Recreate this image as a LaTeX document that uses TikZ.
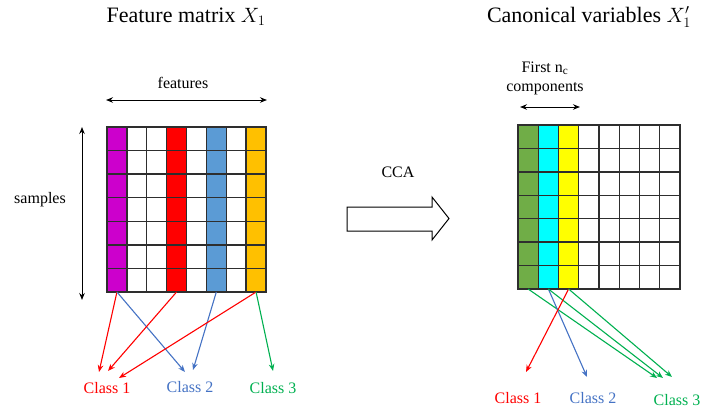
\documentclass[tikz,border=0pt]{standalone}
\usepackage{fontspec}
\setmainfont{Liberation Serif}
\usetikzlibrary{positioning,arrows.meta}

\definecolor{gridgray}{HTML}{2E2E2E}
\definecolor{cred}{HTML}{FF0000}
\definecolor{cblue}{HTML}{4472C4}
\definecolor{cgreen}{HTML}{00B050}
\definecolor{fmag}{HTML}{CC00CC}
\definecolor{fblue}{HTML}{5B9BD5}
\definecolor{forange}{HTML}{FFC000}
\definecolor{fgreen}{HTML}{70AD47}
\definecolor{fcyan}{HTML}{00FFFF}
\definecolor{fyellow}{HTML}{FFFF00}

\begin{document}
\begin{tikzpicture}[x=1pt,y=-1pt,>={Stealth[length=7pt,width=5.5pt]},
  cell/.style={draw=gridgray,line width=1.4pt},
  lbl/.style={font=\fontsize{16}{19}\selectfont,inner sep=0pt},
  ttl/.style={font=\fontsize{22}{26}\selectfont,inner sep=0pt},
  link/.style={->,line width=1.1pt}]
  \useasboundingbox (0,0) rectangle (703,412);

  % titles
  \node[ttl] (ttl1) at (186,17) {Feature matrix $X_1$};
  \node[ttl] (ttl2) at (589,17) {Canonical variables $X_1'$};

  % feature matrix
  \foreach \i/\fc in {1/fmag,2/white,3/white,4/cred,5/white,6/fblue,7/white,8/forange}
    \foreach \j in {1,...,7}
      \draw[cell,fill=\fc] ({107+19.875*(\i-1)},{127+23.57*(\j-1)}) rectangle ++(19.875,23.57);
  \foreach \i in {1,...,8}
    \coordinate (lf\i) at ({107+19.875*(\i-0.5)},292);

  \node[lbl] (feat) at (183,83) {features};
  \coordinate (fl) at (106,100);
  \coordinate (fr) at (267,100);
  \draw[<->,line width=1pt] (fl) -- (fr);
  \node[lbl] (samp) at (40,200) {samples};
  \coordinate (st) at (82,127);
  \coordinate (sb) at (82,300);
  \draw[<->,line width=1pt] (st) -- (sb);

  % canonical variables
  \foreach \i/\fc in {1/fgreen,2/fcyan,3/fyellow,4/white,5/white,6/white,7/white,8/white}
    \foreach \j in {1,...,7}
      \draw[cell,fill=\fc] ({518+20.25*(\i-1)},{125+23.43*(\j-1)}) rectangle ++(20.25,23.43);
  \foreach \i in {1,...,3}
    \coordinate (rf\i) at ({518+20.25*(\i-0.5)},289);

  \node[lbl,align=center] (first) at (545,78) {First n\textsubscript{c}\\components};
  \coordinate (nl) at (520,107);
  \coordinate (nr) at (580,107);
  \draw[<->,line width=1pt] (nl) -- (nr);

  % CCA
  \draw[line width=1pt] (347,207) -- (432,207) -- (432,197) -- (449,218.5)
    -- (432,240) -- (432,231) -- (347,231) -- cycle;
  \coordinate (cca) at (398,197);
  \node[lbl,above=19pt of cca] (ccat) {CCA};

  % classes
  \node[lbl,text=cred] (lc1) at (107,388) {Class 1};
  \node[lbl,text=cblue] (lc2) at (190,387) {Class 2};
  \node[lbl,text=cgreen] (lc3) at (273,388) {Class 3};
  \node[lbl,text=cred] (rc1) at (518,398) {Class 1};
  \node[lbl,text=cblue] (rc2) at (593,398) {Class 2};
  \node[lbl,text=cgreen] (rc3) at (677,400) {Class 3};

  \coordinate (la) at (99,372);
  \coordinate (lb) at (185,372);
  \coordinate (lc) at (108,371);
  \coordinate (ld) at (193,370);
  \coordinate (le) at (119,378);
  \coordinate (lg) at (273,371);
  \coordinate (ra) at (657,378);
  \coordinate (rb) at (587,377);
  \coordinate (rc) at (663,378);
  \coordinate (rd) at (526,372);
  \coordinate (re) at (672,377);

  \path[link]
  (lf1)
  edge [cred] (la)
  edge [cblue] (lb)
  (lf4) edge [cred] (lc)
  (lf6) edge [cblue] (ld)
  (lf8)
  edge [cred] (le)
  edge [cgreen] (lg)
  (rf1) edge [cgreen] (ra)
  (rf2)
  edge [cblue] (rb)
  edge [cgreen] (rc)
  (rf3)
  edge [cred] (rd)
  edge [cgreen] (re)
  ;
\end{tikzpicture}
\end{document}
